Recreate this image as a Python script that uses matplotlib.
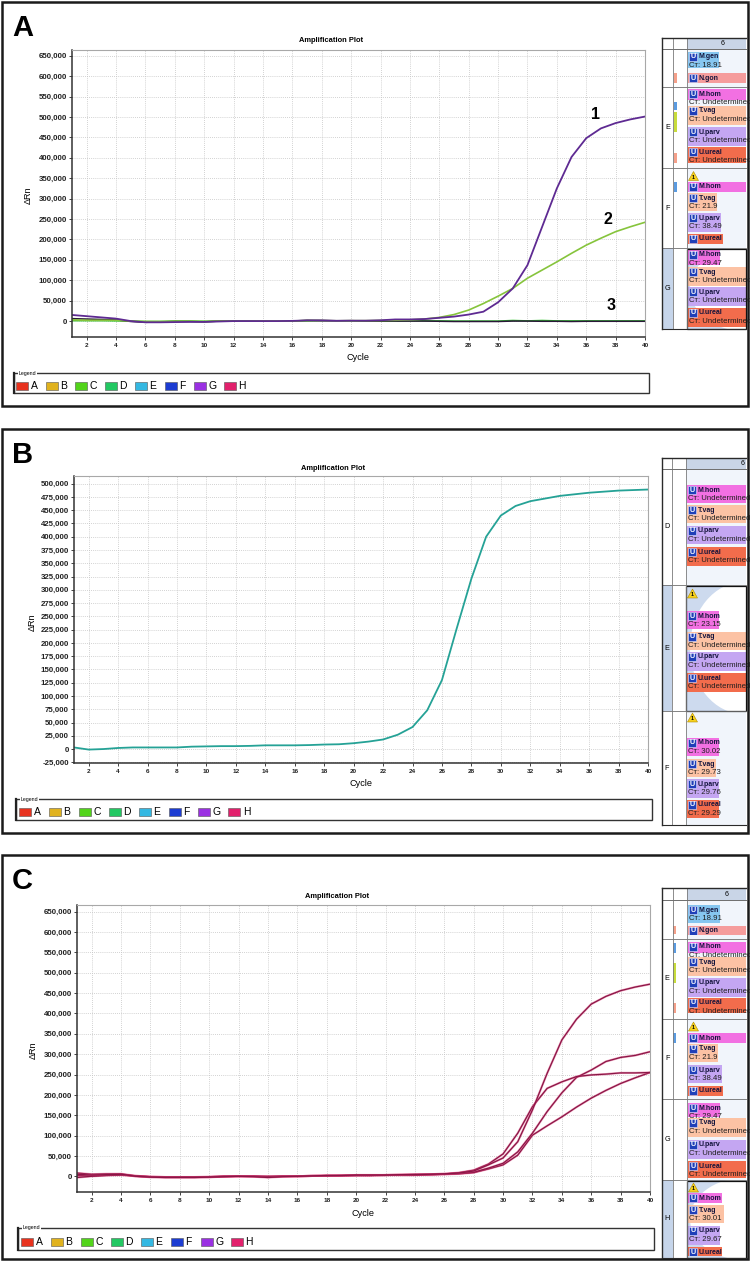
import matplotlib
matplotlib.use('Agg')
import matplotlib.pyplot as plt
from matplotlib.patches import Rectangle, Polygon, Ellipse
from matplotlib.ticker import FuncFormatter
import numpy as np

plt.rcParams['font.family'] = ['Liberation Sans', 'DejaVu Sans']

# ---- data ----
cycles = np.arange(1, 41)

# panel A
a_curve1 = [15000, 12000, 9000, 6000, 0, -3000, -3000, -2500, -2000, -2000,
            -1000, 0, 0, 0, 0, 500, 1500, 1000, 500, 1000,
            1000, 2000, 4000, 4000, 5000, 8000, 11000, 16000, 23000, 46000,
            80000, 137000, 231000, 325000, 402000, 448000, 472000, 485000, 494000, 501000]
a_curve2 = [3000, 2000, 2000, 2000, 0, -1000, -1000, -500, -500, -1000,
            0, 0, 0, 500, 500, 500, 1000, 500, 500, 1000,
            1000, 1500, 2000, 3000, 5000, 9000, 16000, 27000, 43000, 61000,
            80000, 105000, 125000, 145000, 166000, 186000, 203000, 219000, 231000, 242000]
a_flat_dark = [6000, 5000, 4000, 3000, -1000, -3000, -2000, -1000, -1000, -2000,
               0, 0, 0, 0, 0, 0, 2000, 2000, 1000, 1000,
               0, 0, 0, 0, 0, -500, -1000, -1000, -1000, -1000,
               0, 0, -500, -500, -1000, -500, -500, -500, -500, -500]
a_flat_green = [1000, 1000, 1000, 500, 0, -1000, -1000, 0, 0, -500,
                0, 0, 0, 0, 0, 0, 0, 500, 500, 500,
                0, 0, 0, 500, 500, 500, 0, 0, 0, 0,
                1500, 500, 1500, 500, 500, 500, 500, 500, 500, 500]
a_labels = ['1', '2', '3']
a_label_pos = [(36.6, 507000), (37.5, 250000), (37.7, 37000)]

# panel B
b_curve = [3000, -1000, 0, 2000, 3000, 3000, 3000, 3000, 4500, 5000,
           5500, 5500, 6000, 7000, 7000, 7000, 7500, 8500, 9000, 11000,
           14000, 18000, 27000, 41500, 73000, 130000, 227000, 321000, 400000, 440000,
           458000, 467000, 472000, 477000, 480000, 483000, 485000, 487000, 488000, 489000]

# panel C
c_curve1 = [5000, 3000, 4000, 5000, 0, -2000, -3000, -3000, -3000, -2000,
            -1000, 0, -1000, -3000, -1000, 0, 1000, 2000, 2000, 3000,
            3000, 3000, 4000, 4000, 5000, 6000, 8000, 13000, 28000, 45000,
            85000, 163000, 253000, 335000, 386000, 423000, 442000, 456000, 465000, 472000]
c_curve2 = [-3000, 0, 2000, 3000, 1000, -1000, -2000, -2000, -2000, -2000,
            0, 0, 0, 0, 0, 0, 1000, 1000, 2000, 2000,
            2000, 3000, 3000, 3000, 4000, 5000, 7000, 10000, 20000, 32000,
            60000, 106000, 159000, 205000, 243000, 261000, 282000, 292000, 297000, 306000]
c_curve3 = [8000, 5000, 6000, 6000, 1000, -1000, -2000, -2000, -2000, -1000,
            0, 0, 0, -1000, 0, 0, 1000, 2000, 2000, 3000,
            3000, 3000, 4000, 5000, 5000, 6000, 9000, 15000, 30000, 55000,
            106000, 171000, 216000, 232000, 245000, 249000, 251000, 254000, 254000, 255000]
c_curve4 = [2000, 1000, 3000, 4000, 0, -2000, -2000, -2000, -2000, -2000,
            -1000, 0, 0, -2000, 0, 0, 1000, 1000, 1000, 2000,
            2000, 3000, 3000, 3000, 4000, 5000, 6000, 9000, 18000, 28000,
            52000, 101000, 124000, 146000, 170000, 192000, 211000, 228000, 242000, 255000]

legend_wells = ['A', 'B', 'C', 'D', 'E', 'F', 'G', 'H']
legend_colors = ['#e8321e', '#e0b21e', '#52d41a', '#22c862', '#34b8e2', '#1c3cd2', '#9a30e2', '#e2206c']

target_colors = {'M.gen': '#86c6f0', 'N.gon': '#f59c9c', 'M.hom': '#f270e2',
                 'T.vag': '#fcc2a4', 'U.parv': '#c4a6f2', 'U.ureal': '#f26c4c'}

# ---- layout (pixels) ----
W, H = 750, 1261
fig = plt.figure(figsize=(W / 100, H / 100), dpi=100)


def frac(x0, y0, x1, y1):
    return [x0 / W, 1 - y1 / H, (x1 - x0) / W, (y1 - y0) / H]


ov = fig.add_axes([0, 0, 1, 1])
ov.set_xlim(0, W)
ov.set_ylim(H, 0)
ov.axis('off')


def amp_axes(box, ylim, yticks):
    ax = fig.add_axes(frac(*box))
    ax.set_xlim(1, 40)
    ax.set_ylim(*ylim)
    ax.set_xticks(range(2, 41, 2))
    ax.set_yticks(yticks)
    ax.yaxis.set_major_formatter(FuncFormatter(lambda v, p: f'{int(v):,}'))
    ax.grid(True, color='#c4c4c4', linestyle=(0, (1, 1.5)), linewidth=0.6)
    ax.set_axisbelow(True)
    ax.tick_params(axis='y', labelsize=5.7, length=2, width=0.6, pad=1.5, colors='#222222')
    ax.tick_params(axis='x', labelsize=4.6, length=2, width=0.6, pad=2.5, colors='#222222')
    for lab in ax.get_xticklabels() + ax.get_yticklabels():
        lab.set_fontweight('bold')
    for s in ['left', 'bottom']:
        ax.spines[s].set_color('#333333')
        ax.spines[s].set_linewidth(1.1)
    for s in ['top', 'right']:
        ax.spines[s].set_color('#a8a8a8')
        ax.spines[s].set_linewidth(0.8)
    return ax


def panel_frame(box, letter, title_xy, cycle_xy, drn_xy):
    x0, y0, x1, y1 = box
    ov.add_patch(Rectangle((x0, y0), x1 - x0, y1 - y0, fill=False, edgecolor='#1a1a1a', lw=1.8))
    ov.text(x0 + 10, y0 + 34, letter, fontsize=21, fontweight='bold', ha='left', va='baseline')
    ov.text(*title_xy, 'Amplification Plot', fontsize=5.4, fontweight='bold', ha='center', va='center')
    ov.text(*cycle_xy, 'Cycle', fontsize=6.6, ha='center', va='center')
    ov.text(*drn_xy, 'ΔRn', fontsize=6.6, ha='center', va='center', rotation=90)


def legend_box(box, sx, pitch):
    x0, y0, x1, y1 = box
    ov.add_patch(Rectangle((x0, y0), x1 - x0, y1 - y0, fill=False, edgecolor='#333333', lw=1.0))
    ov.plot([x0, x0], [y0, y1], color='#222222', lw=1.6)
    ov.text(x0 + 5, y0, 'Legend', fontsize=3.8, ha='left', va='center',
            bbox=dict(facecolor='white', edgecolor='none', pad=0.6))
    yc = (y0 + y1) / 2 + 2.5
    for i, (w, c) in enumerate(zip(legend_wells, legend_colors)):
        x = sx + i * pitch
        ov.add_patch(Rectangle((x, yc - 4), 12, 8, facecolor=c, edgecolor='#555555', lw=0.4))
        ov.text(x + 14.5, yc + 0.3, w, fontsize=7.5, ha='left', va='center')


def warn(x, y):
    ov.add_patch(Polygon([(x, y + 9), (x + 5, y), (x + 10, y + 9)], closed=True,
                         facecolor='#f7d21e', edgecolor='#b08a00', lw=0.4))
    ov.text(x + 5, y + 5.6, '1', fontsize=3.8, fontweight='bold', ha='center', va='center')


def entry(x0, name, ct, top, vis, right):
    full = 18.5 if ct else 10
    h = min(vis, full)
    box = Rectangle((x0, top), right - x0, h, facecolor=target_colors[name],
                    edgecolor='none', lw=0)
    ov.add_patch(box)
    ic = Rectangle((x0 + 1, top + 1), 8, 7.6, facecolor='#1f3fb8', edgecolor='#dfe6ff', lw=0.4)
    ov.add_patch(ic)
    ic.set_clip_path(box)
    arts = [ov.text(x0 + 5, top + 5, 'U', fontsize=5.2, fontweight='bold', color='white',
                    ha='center', va='center'),
            ov.text(x0 + 10.5, top + 5, name, fontsize=5.0, fontweight='bold', color='#14143c',
                    ha='left', va='center')]
    if ct:
        arts.append(ov.text(x0 + 0.8, top + 13.8, 'Cт: ' + ct, fontsize=5.6, color='#1e1e1e',
                            ha='left', va='center'))
    for a in arts:
        a.set_clip_path(box)


def side_panel(spec):
    lx, ty, rx, by = spec['box']
    c1, c2 = spec['cols']
    hy = spec['header']
    ov.add_patch(Rectangle((lx, ty), rx - lx, by - ty, facecolor='white', edgecolor='none'))
    ov.add_patch(Rectangle((c2, hy), rx - c2, by - hy, facecolor='#f1f5fb', edgecolor='none'))
    ov.add_patch(Rectangle((c2, ty), rx - c2, hy - ty, facecolor='#c9d5e7', edgecolor='none'))
    ov.text(spec['head_x'], (ty + hy) / 2, '6', fontsize=5, ha='center', va='center')
    for letter, y0, y1, sel, wy in spec['rows']:
        if sel:
            ov.add_patch(Rectangle((lx, y0), c1 - lx, y1 - y0, facecolor='#c6d5ea', edgecolor='none'))
            cell = Rectangle((c2, y0), rx - c2, y1 - y0, facecolor='#cddaee', edgecolor='none')
            ov.add_patch(cell)
            el = Ellipse((rx - 2, (y0 + y1) / 2), 108, (y1 - y0) * 1.05, facecolor='white',
                         edgecolor='none')
            ov.add_patch(el)
            el.set_clip_path(cell)
        ov.plot([lx, rx], [y0, y0], color='#6e6e6e', lw=0.6)
        if letter:
            ov.text((lx + c1) / 2, (y0 + y1) / 2, letter, fontsize=5.2, ha='center', va='center')
        if wy is not None:
            warn(c2 + 1.5, wy)
    for col, y0, y1 in spec['marks']:
        ov.add_patch(Rectangle((c1 + 0.5, y0), 3, y1 - y0, facecolor=col, edgecolor='none'))
    for e in spec['entries']:
        entry(c2 + 1, *e)
    for letter, y0, y1, sel, wy in spec['rows']:
        if sel:
            ov.add_patch(Rectangle((c2, y0 + 0.5), rx - c2 - 0.3, y1 - y0 - 1, fill=False,
                                   edgecolor='#111111', lw=0.9))
    ov.plot([c1, c1], [ty, by], color='#7a7a7a', lw=0.6)
    ov.plot([c2, c2], [ty, by], color='#7a7a7a', lw=0.6)
    ov.plot([lx, rx], [hy, hy], color='#6e6e6e', lw=0.6)
    ov.plot([lx, lx], [ty, by], color='#2a2a2a', lw=1.0)
    ov.plot([lx, rx], [ty, ty], color='#2a2a2a', lw=1.0)
    ov.plot([lx, rx], [by, by], color='#2a2a2a', lw=0.8)


side_a = dict(
    box=(662, 38, 746, 329), cols=(673, 687), header=49, head_x=723,
    rows=[('', 49, 87, False, None), ('E', 87, 168, False, None),
          ('F', 168, 248, False, 171.5), ('G', 248, 329, True, None)],
    entries=[('M.gen', '18.91', 52, 16, 719), ('N.gon', None, 73, 10, 746),
             ('M.hom', 'Undetermined', 89, 11, 746), ('T.vag', 'Undetermined', 106, 19, 746),
             ('U.parv', 'Undetermined', 127, 19, 746), ('U.ureal', 'Undetermined', 147, 16, 746),
             ('M.hom', None, 182, 10, 746), ('T.vag', '21.9', 193, 18, 717),
             ('U.parv', '38.49', 213, 19, 721), ('U.ureal', None, 234, 10, 723),
             ('M.hom', '29.47', 250, 15, 720), ('T.vag', 'Undetermined', 267, 19, 746),
             ('U.parv', 'Undetermined', 287, 19, 746), ('U.ureal', 'Undetermined', 308, 19, 746)],
    marks=[('#f4a08a', 73, 83), ('#5b9be0', 102, 110), ('#c8dc3c', 112, 132),
           ('#f4a08a', 153, 163), ('#5b9be0', 182, 192)])

side_b = dict(
    box=(662, 458, 746, 825), cols=(672, 686), header=469, head_x=743,
    rows=[('D', 469, 585, False, None), ('E', 585, 711, True, 589),
          ('F', 711, 825, False, 713)],
    entries=[('M.hom', 'Undetermined', 485, 18, 746), ('T.vag', 'Undetermined', 505, 18, 746),
             ('U.parv', 'Undetermined', 526, 18, 746), ('U.ureal', 'Undetermined', 547, 19, 746),
             ('M.hom', '23.15', 611, 18, 719), ('T.vag', 'Undetermined', 632, 18, 746),
             ('U.parv', 'Undetermined', 652, 19, 746), ('U.ureal', 'Undetermined', 673, 19, 746),
             ('M.hom', '30.02', 738, 18, 719), ('T.vag', '29.73', 759, 18, 716),
             ('U.parv', '29.76', 779, 19, 719), ('U.ureal', '29.29', 800, 18, 719)],
    marks=[])

side_c = dict(
    box=(662, 888, 746, 1258), cols=(672.5, 687), header=900, head_x=727,
    rows=[('', 900, 939, False, None), ('E', 939, 1019, False, None),
          ('F', 1019, 1099, False, 1022), ('G', 1099, 1180, False, None),
          ('H', 1180, 1258, True, 1183)],
    entries=[('M.gen', '18.91', 905, 18, 720), ('N.gon', None, 926, 9, 746),
             ('M.hom', 'Undetermined', 942, 11, 746), ('T.vag', 'Undetermined', 957, 19, 746),
             ('U.parv', 'Undetermined', 978, 19, 746), ('U.ureal', 'Undetermined', 998, 15, 746),
             ('M.hom', None, 1033, 10, 746), ('T.vag', '21.9', 1044, 18, 718),
             ('U.parv', '38.49', 1065, 18, 722), ('U.ureal', None, 1086, 10, 723),
             ('M.hom', '29.47', 1103, 14, 720), ('T.vag', 'Undetermined', 1118, 19, 746),
             ('U.parv', 'Undetermined', 1140, 19, 746), ('U.ureal', 'Undetermined', 1161, 17, 746),
             ('M.hom', None, 1193, 10, 722), ('T.vag', '30.01', 1205, 18, 724),
             ('U.parv', '29.67', 1226, 19, 720), ('U.ureal', None, 1247, 9, 722)],
    marks=[('#f4a08a', 926, 934), ('#5b9be0', 943, 953), ('#c8dc3c', 963, 983),
           ('#f4a08a', 1003, 1013), ('#5b9be0', 1033, 1043)])

# ---- panel A ----
panel_frame((2, 2, 748, 406), 'A', (331, 41), (358, 357), (28, 195))
axA = amp_axes((72, 50, 645, 337), (-39000, 664000), range(0, 650001, 50000))
axA.plot(cycles, a_flat_green, color='#2ec42a', lw=1.1)
axA.plot(cycles, a_flat_dark, color='#2a1838', lw=1.1)
axA.plot(cycles, a_curve2, color='#86c43c', lw=1.2)
axA.plot(cycles, a_curve1, color='#5e2a92', lw=1.3)
for t, (x, y) in zip(a_labels, a_label_pos):
    axA.text(x, y, t, fontsize=11.5, fontweight='bold', ha='center', va='center')
legend_box((14, 373, 649, 393), 16, 29.7)
side_panel(side_a)

# ---- panel B ----
panel_frame((2, 429, 748, 833), 'B', (333, 468), (361, 784), (32, 622))
axB = amp_axes((74, 476, 648, 763), (-26300, 514500), range(-25000, 500001, 25000))
axB.plot(cycles, b_curve, color='#25a296', lw=1.3)
legend_box((16, 799, 652, 820), 19, 29.9)
side_panel(side_b)

# ---- panel C ----
panel_frame((2, 855, 748, 1259), 'C', (337, 897), (363, 1213), (33, 1050))
axC = amp_axes((77, 905, 650, 1192), (-38600, 666500), range(0, 650001, 50000))
for cv in [c_curve4, c_curve2, c_curve3, c_curve1]:
    axC.plot(cycles, cv, color='#e0407a', lw=1.6, alpha=0.5)
    axC.plot(cycles, cv, color='#8a1646', lw=0.9)
legend_box((18, 1228, 654, 1250), 21, 30)
side_panel(side_c)

fig.savefig('out.png', dpi=100, facecolor='white')
